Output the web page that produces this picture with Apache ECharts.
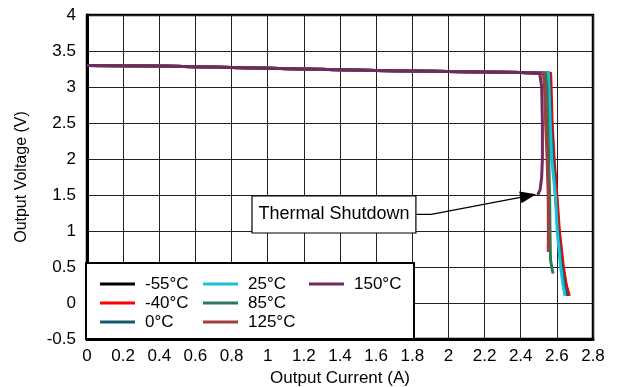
<!DOCTYPE html>
<html><head><meta charset="utf-8">
<script src="https://cdn.jsdelivr.net/npm/echarts@6/dist/echarts.min.js"></script>
<style>html,body{margin:0;padding:0;background:#fff}#c{width:618px;height:387px}</style>
</head><body><div id="c"></div>
<script>
// ---- data ----
const seriesNames = ['-55°C', '-40°C', '0°C', '25°C', '85°C', '125°C', '150°C'];
const xTicks = [0, 0.2, 0.4, 0.6, 0.8, 1, 1.2, 1.4, 1.6, 1.8, 2, 2.2, 2.4, 2.6, 2.8];
const yTicks = [-0.5, 0, 0.5, 1, 1.5, 2, 2.5, 3, 3.5, 4];
// regulated (flat) region shared by all temperatures
const flatCurrent = [0, 0.4, 0.8, 1.2, 1.6, 2.0, 2.4];
const flatVoltage = [3.30, 3.29, 3.27, 3.25, 3.23, 3.215, 3.20];
// current-limit / shutdown region per temperature
const dropCurrentM55 = [2.560, 2.571, 2.582, 2.597, 2.611, 2.633, 2.650, 2.664];
const dropVoltageM55 = [3.19, 2.5, 2.0, 1.5, 1.0, 0.5, 0.25, 0.1];
const dropCurrentM40 = [2.566, 2.574, 2.585, 2.600, 2.614, 2.636, 2.652, 2.669];
const dropVoltageM40 = [3.19, 2.5, 2.0, 1.5, 1.0, 0.5, 0.25, 0.1];
const dropCurrent0 = [2.557, 2.568, 2.578, 2.592, 2.606, 2.627, 2.643, 2.656];
const dropVoltage0 = [3.19, 2.5, 2.0, 1.5, 1.0, 0.5, 0.25, 0.1];
const dropCurrent25 = [2.553, 2.563, 2.571, 2.592, 2.602, 2.621, 2.634, 2.645];
const dropVoltage25 = [3.19, 2.5, 2.0, 1.5, 1.0, 0.5, 0.25, 0.1];
const dropCurrent85 = [2.538, 2.545, 2.550, 2.555, 2.560, 2.562, 2.565, 2.575, 2.580];
const dropVoltage85 = [3.19, 3.0, 2.5, 2.0, 1.5, 1.0, 0.6, 0.45, 0.41];
const dropCurrent125 = [2.525, 2.532, 2.538, 2.546, 2.552, 2.553, 2.552];
const dropVoltage125 = [3.19, 3.0, 2.5, 2.0, 1.5, 1.0, 0.71];
const dropCurrent150 = [2.505, 2.516, 2.520, 2.520, 2.516, 2.507, 2.494];
const dropVoltage150 = [3.19, 3.0, 2.5, 2.0, 1.75, 1.57, 1.5];
const annotationText = 'Thermal Shutdown';

const drops = [
  [dropCurrentM55, dropVoltageM55],
  [dropCurrentM40, dropVoltageM40],
  [dropCurrent0, dropVoltage0],
  [dropCurrent25, dropVoltage25],
  [dropCurrent85, dropVoltage85],
  [dropCurrent125, dropVoltage125],
  [dropCurrent150, dropVoltage150]
];
const colors = ['#000000', '#ff0000', '#175a6c', '#19c2d6', '#2e7a58', '#a23d3d', '#6f2a60'];
const FONT = "'Liberation Sans', Arial, sans-serif";

function buildData(i) {
  const pts = flatCurrent.map((c, k) => [c, flatVoltage[k]]);
  drops[i][0].forEach((c, k) => pts.push([c, drops[i][1][k]]));
  return pts;
}

const chart = echarts.init(document.getElementById('c'), null, {renderer: 'canvas'});
const series = seriesNames.map((n, i) => ({
  name: n, type: 'line', data: buildData(i), showSymbol: false, symbol: 'none',
  color: colors[i], lineStyle: {width: 3, color: colors[i], cap: 'butt', join: 'round'},
  z: 2 + i * 0.01, animation: false
}));

function legendFor(names, left) {
  return {
    data: names, orient: 'vertical', left: left, top: 274.5, padding: 0,
    itemWidth: 35, itemHeight: 3, itemGap: 0, icon: 'rect',
    textStyle: {fontFamily: FONT, fontSize: 17, color: '#000', padding: [0, 0, 0, 5], lineHeight: 19},
    selectedMode: false, z: 10
  };
}

chart.setOption({
  animation: false,
  backgroundColor: '#fff',
  grid: {left: 87, right: 25, top: 15, bottom: 48, show: true, borderColor: '#000', borderWidth: 2.5,
         containLabel: false, outerBoundsMode: 'none'},
  xAxis: {
    type: 'value', min: xTicks[0], max: xTicks[xTicks.length - 1], interval: 0.2,
    name: 'Output Current (A)', nameLocation: 'middle', nameGap: 29,
    nameTextStyle: {fontFamily: FONT, fontSize: 17, color: '#000'},
    axisLine: {show: true, onZero: false, lineStyle: {color: '#000', width: 3}},
    axisTick: {show: false},
    axisLabel: {fontFamily: FONT, fontSize: 17, color: '#000', margin: 9},
    splitLine: {show: true, lineStyle: {color: '#222', width: 1}}
  },
  yAxis: {
    type: 'value', min: yTicks[0], max: yTicks[yTicks.length - 1], interval: 0.5,
    name: 'Output Voltage (V)', nameLocation: 'middle', nameGap: 57,
    nameTextStyle: {fontFamily: FONT, fontSize: 16, color: '#000'},
    axisLine: {show: true, onZero: false, lineStyle: {color: '#000', width: 3}},
    axisTick: {show: false},
    axisLabel: {fontFamily: FONT, fontSize: 17, color: '#000', margin: 11},
    splitLine: {show: true, lineStyle: {color: '#222', width: 1}}
  },
  legend: [
    legendFor(seriesNames.slice(0, 3), 100),
    legendFor(seriesNames.slice(3, 6), 203),
    legendFor(seriesNames.slice(6, 7), 309)
  ],
  series: series
});

// legend frame and annotation (positions derived from axes)
const p = (x, y) => chart.convertToPixel({gridIndex: 0}, [x, y]);
const gLeft = p(0, 0)[0];
const gBottom = p(0, -0.5)[1];
const boxTL = p(0.913, 1.486), boxBR = p(1.82, 0.972);
const elbow = p(1.905, 1.23), start = p(1.82, 1.23), tip = p(2.485, 1.51);
const ang = Math.atan2(tip[1] - elbow[1], tip[0] - elbow[0]);
const L = 16, W = 6;
const base = [tip[0] - L * Math.cos(ang), tip[1] - L * Math.sin(ang)];
const head = [
  tip,
  [base[0] + W * Math.sin(ang), base[1] - W * Math.cos(ang)],
  [base[0] - W * Math.sin(ang), base[1] + W * Math.cos(ang)]
];
chart.setOption({
  graphic: [
    {type: 'rect', z: 5, shape: {x: gLeft - 1, y: 263, width: 328, height: gBottom - 263},
     style: {fill: '#fff', stroke: '#000', lineWidth: 2}},
    {type: 'rect', z: 20, shape: {x: boxTL[0], y: boxTL[1], width: boxBR[0] - boxTL[0], height: boxBR[1] - boxTL[1]},
     style: {fill: '#fff', stroke: '#000', lineWidth: 1.2}},
    {type: 'text', z: 21, x: (boxTL[0] + boxBR[0]) / 2, y: (boxTL[1] + boxBR[1]) / 2,
     style: {text: annotationText, fontFamily: FONT, fontSize: 18, fill: '#000', align: 'center', verticalAlign: 'middle'}},
    {type: 'polyline', z: 21, shape: {points: [start, elbow, base]}, style: {stroke: '#000', lineWidth: 1.2, fill: null}},
    {type: 'polygon', z: 21, shape: {points: head}, style: {fill: '#000'}}
  ]
});
</script>
</body></html>
